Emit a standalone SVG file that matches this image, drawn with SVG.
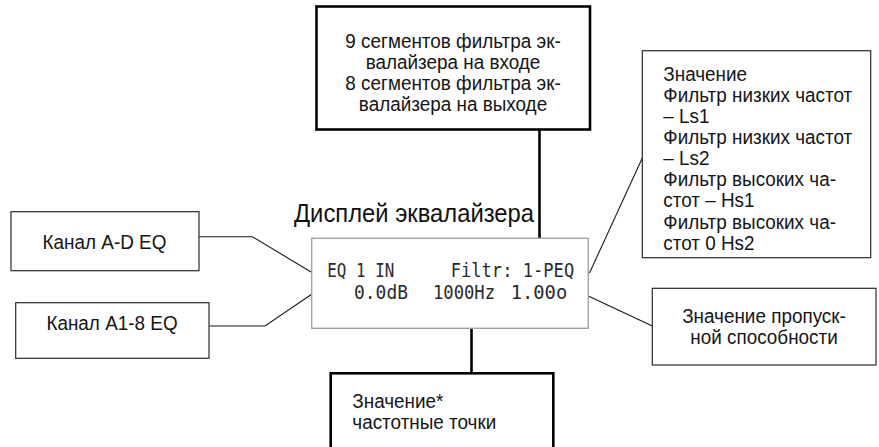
<svg xmlns="http://www.w3.org/2000/svg" width="879" height="447" viewBox="0 0 879 447">
<style>
.bx{fill:#fff;stroke:#2a2a2a;stroke-width:1.2}
.bk{fill:#fff;stroke:#000;stroke-width:2.6}
.disp{fill:#fff;stroke:#a3a3a3;stroke-width:1.4}
.t{font-family:"Liberation Sans",Arial,sans-serif;font-size:18.9px;fill:#151515}
.ttl{font-family:"Liberation Sans",Arial,sans-serif;font-size:23.8px;fill:#111}
.m{font-family:"DejaVu Sans Mono","Liberation Mono",monospace;font-size:20px;fill:#2a2a2a}
.c{fill:none;stroke:#1a1a1a;stroke-width:1.1}
.ck{fill:none;stroke:#000;stroke-width:2.6}
</style>
<g id="connectors">
<line class="ck" x1="539.5" y1="129.3" x2="539.5" y2="238.3"/>
<line class="ck" x1="471.5" y1="328.3" x2="471.5" y2="373.3"/>
<polyline class="c" points="199,236.7 252.3,236.7 312.3,272.7"/>
<polyline class="c" points="209,326 265,326 311.7,294.3"/>
<line class="c" x1="642.3" y1="158" x2="589.5" y2="273"/>
<line class="c" x1="652.3" y1="326" x2="588.3" y2="296"/>
</g>
<g id="top-box">
<rect class="bk" x="316.5" y="6.5" width="273.5" height="123"/>
<text class="t" text-anchor="middle" transform="translate(453,47.6) scale(1,1.1)"><tspan x="0" y="0">9 сегментов фильтра эк-</tspan><tspan x="0" y="19.2">валайзера на входе</tspan><tspan x="0" y="38.4">8 сегментов фильтра эк-</tspan><tspan x="0" y="57.6">валайзера на выходе</tspan></text>
</g>
<g id="title">
<text class="ttl" transform="translate(294,221.7) scale(1,1.1)" x="0" y="0">Дисплей эквалайзера</text>
</g>
<g id="display">
<rect class="disp" x="311.7" y="238.3" width="276.6" height="90"/>
<text class="m" x="327.3" y="276.7" textLength="67" lengthAdjust="spacingAndGlyphs">EQ 1 IN</text>
<text class="m" x="450.7" y="276.7" textLength="123.5" lengthAdjust="spacingAndGlyphs">Filtr: 1-PEQ</text>
<text class="m" x="354" y="299.3" textLength="54" lengthAdjust="spacingAndGlyphs">0.0dB</text>
<text class="m" x="433" y="299.3" textLength="62" lengthAdjust="spacingAndGlyphs">1000Hz</text>
<text class="m" x="510.7" y="299.3" textLength="56.5" lengthAdjust="spacingAndGlyphs">1.00o</text>
</g>
<g id="right-box">
<rect class="bx" x="642.3" y="50.7" width="228.4" height="207"/>
<text class="t" transform="translate(663.3,80.7) scale(1,1.1)"><tspan x="0" y="0">Значение</tspan><tspan x="0" y="19.2">Фильтр низких частот</tspan><tspan x="0" y="38.4">– Ls1</tspan><tspan x="0" y="57.6">Фильтр низких частот</tspan><tspan x="0" y="76.8">– Ls2</tspan><tspan x="0" y="96">Фильтр высоких ча-</tspan><tspan x="0" y="115.2">стот – Hs1</tspan><tspan x="0" y="134.4">Фильтр высоких ча-</tspan><tspan x="0" y="153.6">стот 0 Hs2</tspan></text>
</g>
<g id="left-box-1">
<rect class="bx" x="11" y="211.7" width="188" height="59"/>
<text class="t" text-anchor="middle" transform="translate(104.5,249.3) scale(1,1.1)" x="0" y="0">Канал A-D EQ</text>
</g>
<g id="left-box-2">
<rect class="bx" x="15.7" y="302.7" width="193.3" height="55.6"/>
<text class="t" text-anchor="middle" transform="translate(112,330) scale(1,1.1)" x="0" y="0">Канал A1-8 EQ</text>
</g>
<g id="bandwidth-box">
<rect class="bx" x="652.3" y="288.3" width="223.7" height="76.7"/>
<text class="t" text-anchor="middle" transform="translate(764,322.7) scale(1,1.1)"><tspan x="0" y="0">Значение пропуск-</tspan><tspan x="0" y="19">ной способности</tspan></text>
</g>
<g id="bottom-box">
<rect class="bk" x="330.7" y="373.3" width="222.6" height="90"/>
<text class="t" transform="translate(352.3,408.3) scale(1,1.1)"><tspan x="0" y="0">Значение*</tspan><tspan x="0" y="19.1">частотные точки</tspan></text>
</g>
</svg>
